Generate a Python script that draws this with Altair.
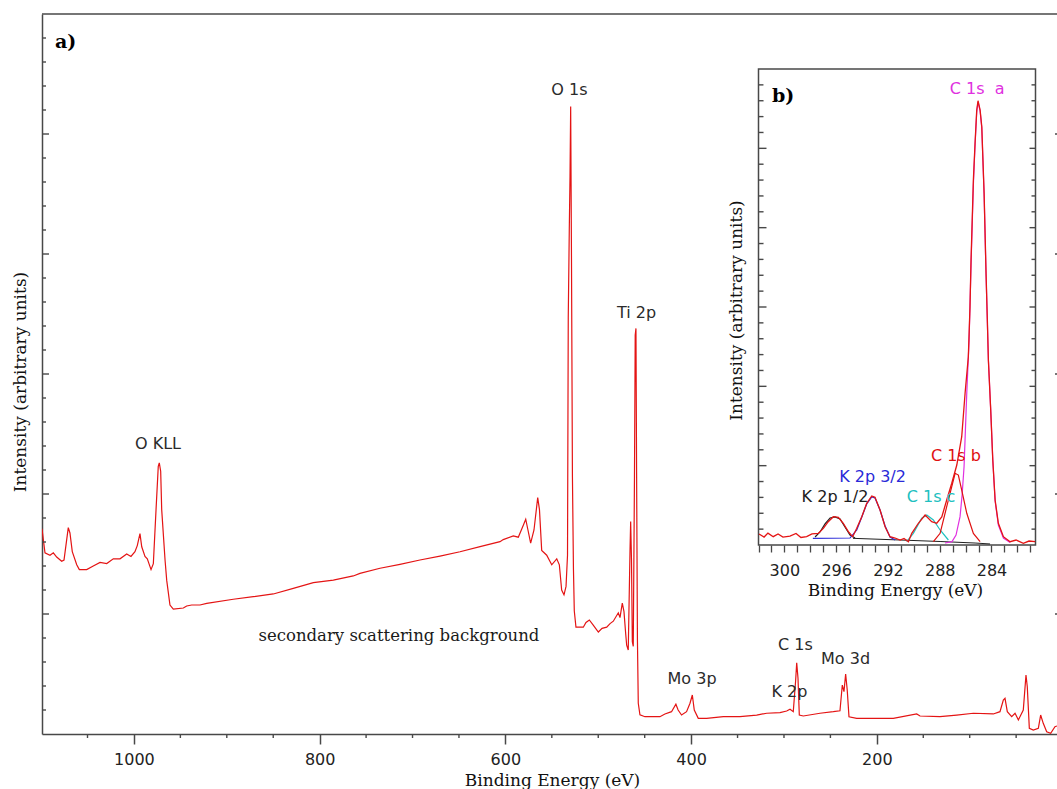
import altair as alt
import pandas as pd

# ---------------- panel a: XPS survey spectrum ----------------
survey_be = [1099.0, 1095.8, 1090.4, 1086.8, 1083.2, 1077.8, 1075.3, 1070.7, 1068.9, 1066.4,
             1061.6, 1058.8, 1050.9, 1043.8, 1036.5, 1029.3, 1022.2, 1015.0, 1007.8, 1003.2,
             998.9, 996.4, 993.5, 991.6, 988.1, 985.6, 981.6, 979.1, 976.2, 973.8,
             972.7, 971.2, 970.1, 966.5, 964.7, 961.2, 957.6, 946.8, 943.2, 937.8,
             928.9, 921.6, 893.0, 871.5, 849.9, 828.4, 806.8, 785.3, 763.8, 756.6,
             735.0, 713.5, 692.0, 670.4, 648.9, 627.3, 605.8, 602.3, 591.5, 586.1,
             580.7, 578.1, 575.7, 572.8, 569.2, 565.2, 563.3, 560.9, 555.5, 550.1,
             544.7, 541.9, 539.4, 536.9, 534.7, 533.1, 532.3, 531.2, 530.4, 529.7,
             528.8, 527.8, 526.7, 525.8, 524.0, 516.1, 513.2, 509.6, 505.6, 499.9,
             495.9, 490.9, 487.3, 483.8, 478.4, 476.6, 474.1, 472.3, 470.5, 469.4,
             467.7, 465.8, 465.1, 464.2, 463.3, 462.3, 461.0, 460.2, 459.4, 458.7,
             457.8, 456.9, 455.1, 449.7, 433.6, 428.2, 421.1, 416.4, 414.0, 410.3,
             404.9, 401.2, 398.7, 396.6, 392.3, 383.3, 365.3, 347.4, 329.4, 318.6,
             304.3, 297.1, 293.5, 290.0, 287.4, 286.3, 284.9, 283.5, 279.2, 261.2,
             246.9, 239.7, 237.2, 235.4, 233.6, 231.9, 230.0, 221.7, 203.8, 182.3,
             157.1, 153.5, 132.0, 114.0, 96.1, 74.6, 67.4, 63.8, 62.0, 59.5,
             54.8, 51.2, 47.6, 42.3, 39.4, 38.0, 35.8, 31.5, 26.1, 23.6,
             20.8, 17.1, 12.8, 8.2, 6.0]
survey_int = [17.1, 15.1, 14.9, 15.1, 14.75, 14.4, 14.5, 17.2, 16.75, 15.2,
              14.1, 13.7, 13.7, 14.0, 14.3, 14.2, 14.6, 14.6, 15.0, 14.8,
              15.2, 15.7, 16.7, 15.6, 14.8, 14.6, 13.7, 14.2, 18.7, 22.3,
              22.6, 21.9, 18.7, 14.5, 12.8, 10.75, 10.4, 10.5, 10.67, 10.75,
              10.75, 10.89, 11.23, 11.44, 11.67, 12.14, 12.61, 12.83, 13.17, 13.39,
              13.81, 14.14, 14.5, 14.83, 15.19, 15.61, 16.03, 16.2, 16.5, 16.4,
              17.4, 17.9, 17.0, 15.9, 17.0, 19.7, 18.7, 15.3, 14.9, 14.1,
              14.6, 14.1, 12.0, 11.6, 12.3, 14.9, 34.7, 42.0, 46.5, 52.3,
              39.25, 21.4, 13.7, 10.25, 8.9, 8.9, 9.3, 9.5, 9.1, 8.5,
              8.8, 8.9, 9.2, 9.4, 10.1, 9.7, 10.9, 10.2, 8.4, 7.4,
              7.0, 15.3, 17.7, 14.5, 7.7, 7.3, 21.4, 33.25, 33.8, 21.7,
              7.8, 2.56, 1.6, 1.44, 1.44, 1.67, 1.86, 2.48, 2.0, 1.58,
              1.86, 2.56, 3.25, 2.0, 1.31, 1.31, 1.44, 1.44, 1.58, 1.73,
              1.78, 1.92, 2.06, 1.86, 4.5, 5.94, 4.64, 1.58, 1.5, 1.73,
              1.86, 1.94, 4.08, 3.53, 5.0, 3.67, 1.44, 1.31, 1.31, 1.31,
              1.67, 1.5, 1.44, 1.58, 1.73, 1.67, 1.86, 2.83, 2.97, 1.86,
              1.44, 1.73, 1.17, 2.0, 4.92, 3.94, 0.48, 0.33, 0.48, 1.58,
              0.89, 0.19, 0.06, 0.61, 0.67]

peak_names = ["O KLL", "O 1s", "Ti 2p", "Mo 3p", "C 1s", "Mo 3d", "K 2p"]
peak_be = [974.1, 531.0, 458.8, 399.0, 287.6, 233.7, 294.1]
peak_int = [24.2, 53.7, 35.1, 4.58, 7.42, 6.25, 3.54]

note_text = ["secondary scattering background"]
note_be = [714.6]
note_int = [8.17]

panel_a_text = ["a)"]
panel_a_be = [1085.0]
panel_a_int = [57.7]

# axis domains / ticks panel a
a_be_domain = [1099.0, 6.0]
a_int_domain = [0.0, 60.0]
a_x_major = [1000, 800, 600, 400, 200]
a_x_minor = [1050, 950, 900, 850, 750, 700, 650, 550, 500, 450, 350, 300, 250, 150, 100, 50]
y_major = [10, 20, 30, 40, 50]
y_minor = [v for v in range(2, 60, 2) if v % 10 != 0]

# ---------------- panel b: C 1s high resolution ----------------
hr_be = [301.96, 301.57, 301.27, 300.86, 300.49, 300.11, 299.57, 299.10, 298.72, 298.28,
         297.87, 297.38, 296.99, 296.61, 296.22, 295.83, 295.45, 295.06, 294.72, 294.41,
         294.02, 293.64, 293.25, 293.00, 292.61, 292.22, 291.84, 291.45, 291.06, 290.76,
         290.42, 290.16, 289.65, 289.13, 288.62, 288.23, 287.84, 287.46, 287.07, 286.68,
         286.30, 286.04, 285.79, 285.66, 285.58, 285.40, 285.27, 285.14, 285.04, 284.88,
         284.75, 284.57, 284.42, 284.32, 284.24, 284.06, 283.90, 283.72, 283.47, 283.08,
         282.56, 282.10, 281.54, 281.10, 280.63]
hr_int = [1.39, 1.0, 1.5, 1.05, 1.39, 1.0, 1.13, 1.45, 0.95, 1.05,
          1.39, 1.47, 2.1, 2.94, 3.57, 3.49, 2.74, 1.68, 1.05, 2.1,
          3.57, 5.26, 6.18, 6.01, 4.41, 2.31, 1.05, 0.88, 0.63, 0.82,
          0.42, 1.47, 2.74, 3.78, 2.94, 2.74, 3.53, 5.67, 7.78, 10.08,
          13.65, 19.12, 23.70, 30.04, 35.92, 46.0, 50.63, 54.83, 56.0, 54.83,
          52.73, 44.33, 34.25, 28.36, 23.32, 17.02, 10.71, 5.67, 2.74, 1.05,
          0.42, 0.63, 0.21, 0.5, 0.42]

c1s_a_be = [287.59, 287.05, 286.74, 286.43, 286.27, 286.12, 285.91, 285.73, 285.58, 285.40,
            285.27, 285.14, 285.04, 284.88, 284.75, 284.57, 284.42, 284.24, 284.06, 283.90,
            283.72, 283.47, 283.08, 282.56]
c1s_a_int = [0.25, 0.42, 1.26, 3.57, 6.30, 9.87, 19.16, 25.84, 35.29, 45.38,
             50.42, 54.58, 55.84, 54.71, 52.56, 44.12, 34.03, 23.32, 17.02, 10.71,
             5.55, 2.52, 0.88, 0.32]
c1s_b_be = [288.49, 287.97, 287.46, 287.07, 286.81, 286.56, 286.30, 285.91, 285.40, 284.88]
c1s_b_int = [0.42, 1.47, 4.83, 7.35, 9.04, 8.82, 6.93, 4.0, 1.47, 0.42]
c1s_c_be = [290.55, 290.04, 289.39, 289.0, 288.49, 287.97, 287.33]
c1s_c_int = [0.42, 1.47, 3.37, 3.78, 3.15, 1.89, 0.63]
k2p32_be = [297.8, 294.93, 294.41, 294.02, 293.64, 293.25, 293.0, 292.61, 292.22, 291.84, 291.45]
k2p32_int = [0.84, 0.88, 1.89, 3.53, 5.17, 6.05, 5.92, 4.41, 2.39, 1.01, 0.63]
k2p12_be = [297.63, 297.25, 296.86, 296.47, 296.09, 295.70, 295.32, 294.93, 294.54]
k2p12_int = [1.01, 1.64, 2.65, 3.40, 3.53, 3.28, 2.27, 1.26, 0.88]
bg_be = [294.70, 291.06, 287.97, 285.27, 284.11]
bg_int = [0.84, 0.63, 0.44, 0.25, 0.13]

inset_names = ["C 1s\u00a0\u00a0a", "C 1s b", "K 2p 3/2", "K 2p 1/2", "C 1s c"]
inset_name_be = [285.11, 286.75, 293.19, 296.09, 288.67]
inset_name_int = [57.5, 11.2, 8.51, 5.99, 5.99]
inset_name_color = ["#e030e0", "#e01010", "#2a2ad8", "#202020", "#20c0c0"]

panel_b_text = ["b)"]
panel_b_be = [300.96]
panel_b_int = [56.6]

b_be_domain = [302.0, 280.6]
b_int_domain = [0.0, 60.0]
b_x_ticks = list(range(281, 303))

# ---------------- layout / style ----------------
W, H = 1015, 720
INSET_X = [716.5, 993.5]   # inset frame, px within plot area
INSET_Y = [531, 55]
AXIS = "#484848"
RED = "#e41414"
SANS = "DejaVu Sans"
SERIF = "DejaVu Serif"

main_x = alt.Scale(domain=a_be_domain, nice=False, zero=False)
main_y = alt.Scale(domain=a_int_domain, nice=False, zero=False)
in_x = alt.Scale(domain=b_be_domain, range=INSET_X, nice=False, zero=False)
in_y = alt.Scale(domain=b_int_domain, range=INSET_Y, nice=False, zero=False)

x_axis_a = alt.Axis(orient="bottom", values=a_x_major, format="d", tickSize=10, tickWidth=1.5,
                    tickColor=AXIS, domainColor=AXIS, domainWidth=1.5, labelFont=SANS,
                    labelFontSize=16, labelColor="#222222", labelPadding=7, labelOverlap=False,
                    labelFlush=False, grid=False, title="Binding Energy (eV)", titleFont=SERIF,
                    titleFontSize=17, titleFontWeight="normal", titleColor="#111111", titleX=510,
                    titleY=51, titleAlign="center", titleBaseline="alphabetic")
y_axis_a = alt.Axis(orient="left", domain=True, domainColor=AXIS, domainWidth=1.5, ticks=False,
                    labels=False, grid=False, title="Intensity (arbitrary units)", titleFont=SERIF,
                    titleFontSize=17, titleFontWeight="normal", titleColor="#111111", titleAngle=270,
                    titleX=-22, titleY=367.5, titleAlign="center", titleBaseline="middle")

survey = pd.DataFrame({"be": survey_be, "i": survey_int})
line_a = alt.Chart(survey).mark_line(color=RED, strokeWidth=1.2, clip=True).encode(
    x=alt.X("be:Q", scale=main_x, axis=x_axis_a),
    y=alt.Y("i:Q", scale=main_y, axis=y_axis_a),
)


def yrules(values, scale, x0, x1):
    return alt.Chart(pd.DataFrame({"v": values})).mark_rule(color=AXIS, strokeWidth=1.4).encode(
        y=alt.Y("v:Q", scale=scale, axis=None), x=alt.value(x0), x2=alt.value(x1))


a_minor_x = alt.Chart(pd.DataFrame({"v": a_x_minor})).mark_rule(color=AXIS, strokeWidth=1.4).encode(
    x=alt.X("v:Q", scale=main_x, axis=None), y=alt.value(H), y2=alt.value(H + 4))
top_border = alt.Chart(pd.DataFrame({"v": [0]})).mark_rule(color=AXIS, strokeWidth=1.5).encode(
    x=alt.value(0), x2=alt.value(W), y=alt.value(0))

peaks = pd.DataFrame({"name": peak_names, "be": peak_be, "i": peak_int})
peak_text = alt.Chart(peaks).mark_text(font=SANS, fontSize=16, color="#2b2b2b", align="center",
                                       baseline="middle").encode(
    x=alt.X("be:Q", scale=main_x, axis=None), y=alt.Y("i:Q", scale=main_y, axis=None), text="name:N")
note = pd.DataFrame({"name": note_text, "be": note_be, "i": note_int})
note_mark = alt.Chart(note).mark_text(font=SERIF, fontSize=16.5, color="#1a1a1a", align="center",
                                      baseline="middle").encode(
    x=alt.X("be:Q", scale=main_x, axis=None), y=alt.Y("i:Q", scale=main_y, axis=None), text="name:N")
pa = pd.DataFrame({"name": panel_a_text, "be": panel_a_be, "i": panel_a_int})
pa_mark = alt.Chart(pa).mark_text(font=SERIF, fontSize=19, fontWeight="bold", color="#000000",
                                  align="left", baseline="middle").encode(
    x=alt.X("be:Q", scale=main_x, axis=None), y=alt.Y("i:Q", scale=main_y, axis=None), text="name:N")

# ---------------- inset ----------------
x_axis_b = alt.Axis(orient="bottom", offset=INSET_Y[0] - H, values=b_x_ticks,
                    labelExpr="datum.value % 4 == 0 ? datum.label : ''",
                    tickSize=7, tickWidth=1.3, tickColor=AXIS, domain=False, grid=False,
                    labelFont=SANS, labelFontSize=16, labelColor="#222222", labelPadding=10,
                    labelOverlap=False, labelFlush=False,
                    title="Binding Energy (eV)", titleFont=SERIF, titleFontSize=17,
                    titleFontWeight="normal", titleColor="#111111", titleX=853, titleY=50.7,
                    titleAlign="center", titleBaseline="alphabetic")
y_axis_b = alt.Axis(orient="left", offset=-INSET_X[0], domain=False, ticks=False, labels=False,
                    grid=False, title="Intensity (arbitrary units)", titleFont=SERIF, titleFontSize=17,
                    titleFontWeight="normal", titleColor="#111111", titleAngle=270, titleX=-22.5,
                    titleY=296, titleAlign="center", titleBaseline="middle")

frame = pd.DataFrame({"x1": [b_be_domain[0]], "x2": [b_be_domain[1]],
                      "y1": [b_int_domain[0]], "y2": [b_int_domain[1]]})
frame_b = alt.Chart(frame).mark_rect(fill="white", stroke=AXIS, strokeWidth=1.5).encode(
    x=alt.X("x1:Q", scale=in_x, axis=x_axis_b), x2="x2:Q",
    y=alt.Y("y1:Q", scale=in_y, axis=y_axis_b), y2="y2:Q")


def curve(be, inten, color, width=1.2):
    df = pd.DataFrame({"be": be, "i": inten})
    return alt.Chart(df).mark_line(color=color, strokeWidth=width).encode(
        x=alt.X("be:Q", scale=in_x, axis=None), y=alt.Y("i:Q", scale=in_y, axis=None))


inset_lbl = pd.DataFrame({"name": inset_names, "be": inset_name_be, "i": inset_name_int,
                          "col": inset_name_color})
inset_text = alt.Chart(inset_lbl).mark_text(font=SANS, fontSize=16, align="center",
                                            baseline="middle").encode(
    x=alt.X("be:Q", scale=in_x, axis=None), y=alt.Y("i:Q", scale=in_y, axis=None),
    text="name:N", color=alt.Color("col:N", scale=None))
pb = pd.DataFrame({"name": panel_b_text, "be": panel_b_be, "i": panel_b_int})
pb_mark = alt.Chart(pb).mark_text(font=SERIF, fontSize=19, fontWeight="bold", color="#000000",
                                  align="left", baseline="middle").encode(
    x=alt.X("be:Q", scale=in_x, axis=None), y=alt.Y("i:Q", scale=in_y, axis=None), text="name:N")

layers = [
    line_a,
    top_border,
    yrules(y_minor, main_y, 0, 4),
    yrules(y_major, main_y, 0, 7),
    yrules(y_major, main_y, W - 2, W + 5),
    a_minor_x,
    peak_text,
    note_mark,
    pa_mark,
    frame_b,
    yrules(y_minor, in_y, INSET_X[0], INSET_X[0] + 5),
    yrules(y_major, in_y, INSET_X[0], INSET_X[0] + 8),
    yrules(y_minor, in_y, INSET_X[1] - 4, INSET_X[1]),
    yrules(y_major, in_y, INSET_X[1] - 6, INSET_X[1]),
    curve(bg_be, bg_int, "#202020", 1.0),
    curve(k2p12_be, k2p12_int, "#202020"),
    curve(k2p32_be, k2p32_int, "#2a2ad8"),
    curve(c1s_c_be, c1s_c_int, "#20c0c0"),
    curve(c1s_a_be, c1s_a_int, "#e030e0"),
    curve(c1s_b_be, c1s_b_int, "#e01010"),
    curve(hr_be, hr_int, RED, 1.3),
    inset_text,
    pb_mark,
]

chart = alt.layer(*layers).resolve_scale(x="independent", y="independent").properties(
    width=W, height=H,
    padding={"left": 42, "top": 14, "right": 0, "bottom": 55},
    autosize=alt.AutoSizeParams(type="none"),
    background="white",
).configure_view(stroke=None)

chart.save("out.html", embed_options={"renderer": "svg", "actions": False})
